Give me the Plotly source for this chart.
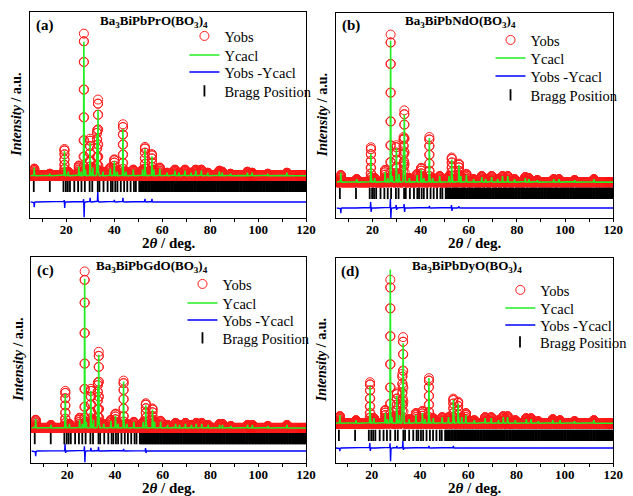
import numpy as np
import plotly.graph_objects as go

SERIF = "Times New Roman, Liberation Serif, serif"

# ---------------- data ----------------
labels = ["(a)", "(b)", "(c)", "(d)"]
formulas = [
    "Ba<sub>3</sub>BiPbPrO(BO<sub>3</sub>)<sub>4</sub>",
    "Ba<sub>3</sub>BiPbNdO(BO<sub>3</sub>)<sub>4</sub>",
    "Ba<sub>3</sub>BiPbGdO(BO<sub>3</sub>)<sub>4</sub>",
    "Ba<sub>3</sub>BiPbDyO(BO<sub>3</sub>)<sub>4</sub>",
]
series_names = ["Yobs", "Ycacl", "Yobs -Ycacl", "Bragg Position"]

# background level, Bragg-tick level, difference-curve level (a.u.)
baselines = [20.5, 17.5, 17.0, 19.4]
bragg_levels = [15.3, 12.0, 11.8, 13.5]
diff_levels = [7.8, 4.9, 5.8, 7.3]

# peak positions (2theta), observed and calculated peak heights (a.u. above background)
a_pos = [6.6, 13.1, 19.2, 20.8, 25.2, 26.2, 27.3, 28.0, 29.9, 31.0, 32.8, 33.2, 35.3, 38.3, 40.0, 41.2, 43.6, 44.9,
         47.9, 51.8, 52.8, 55.7, 56.5, 59.0, 62.0, 65.3, 67.0, 69.5, 72.0, 74.0, 76.3, 79.0, 83.8, 85.0, 88.5, 95.5,
         97.5, 104.0, 112.0]
a_obs = [3.5, 1.0, 13.0, 2.0, 5.0, 2.0, 69.0, 3.0, 18.0, 4.0, 22.0, 37.0, 2.0, 4.0, 8.0, 2.0, 25.0, 2.0,
         3.0, 3.0, 14.0, 10.5, 3.0, 4.0, 1.5, 3.0, 1.5, 3.0, 1.5, 3.0, 3.0, 1.5, 2.5, 2.0, 1.0, 2.0,
         1.5, 1.0, 1.5]
a_calc = [4.0, 1.0, 12.0, 2.0, 4.5, 2.0, 65.0, 3.0, 16.0, 4.0, 20.0, 32.0, 2.0, 3.5, 7.0, 2.0, 22.7, 2.0,
          3.0, 3.0, 13.0, 9.5, 3.0, 3.5, 1.5, 2.5, 1.5, 2.5, 1.5, 2.5, 2.5, 1.5, 2.0, 1.5, 1.0, 1.5,
          1.5, 1.0, 1.5]

b_pos = [6.8, 13.4, 19.3, 20.9, 25.2, 26.3, 27.5, 28.2, 29.9, 31.0, 32.9, 33.2, 35.3, 38.5, 40.2, 41.3, 43.6, 45.0,
         47.9, 51.8, 52.9, 55.9, 56.7, 59.0, 62.0, 65.4, 67.0, 69.5, 72.0, 74.0, 76.2, 79.0, 83.5, 85.0, 88.5, 95.3,
         97.5, 104.0, 112.0]
b_obs = [3.5, 1.5, 17.0, 2.0, 6.0, 2.0, 72.0, 3.0, 18.0, 4.0, 22.0, 35.0, 2.0, 4.0, 7.0, 2.0, 22.0, 2.0,
         3.0, 3.0, 12.0, 9.0, 3.0, 4.0, 1.5, 3.0, 1.5, 3.0, 1.5, 3.0, 3.0, 1.5, 2.5, 2.0, 1.0, 1.5,
         1.5, 1.0, 1.5]
b_calc = [4.5, 1.5, 14.0, 2.0, 5.0, 2.0, 69.0, 3.0, 16.6, 4.0, 20.0, 33.0, 2.0, 3.5, 6.0, 2.0, 21.5, 2.0,
          3.0, 3.0, 11.0, 8.5, 3.0, 3.5, 1.5, 2.5, 1.5, 2.5, 1.5, 3.0, 3.0, 1.5, 2.0, 1.5, 1.0, 1.5,
          1.5, 1.0, 1.5]

c_pos = [6.8, 13.2, 19.2, 20.9, 25.2, 26.3, 27.3, 28.0, 29.9, 31.0, 32.8, 33.2, 35.3, 38.3, 40.2, 41.3, 43.6, 45.0,
         47.9, 51.8, 52.9, 55.7, 56.6, 59.1, 62.0, 65.4, 67.0, 69.5, 72.0, 74.0, 76.3, 79.0, 83.8, 85.0, 88.5, 95.5,
         97.5, 104.0, 112.0]
c_obs = [4.0, 1.5, 18.0, 2.0, 5.0, 2.0, 76.0, 3.0, 19.0, 4.0, 22.0, 37.0, 2.0, 4.0, 7.0, 2.0, 23.0, 2.0,
         3.0, 3.0, 12.0, 9.5, 3.0, 3.5, 1.5, 2.5, 1.5, 2.5, 1.5, 2.5, 2.5, 1.5, 2.0, 2.0, 1.0, 1.5,
         1.5, 1.0, 1.5]
c_calc = [4.5, 1.5, 16.5, 2.0, 4.0, 2.0, 72.5, 3.0, 18.0, 4.0, 20.0, 35.5, 2.0, 3.5, 6.0, 2.0, 22.5, 2.0,
          3.0, 3.0, 11.0, 9.0, 3.0, 3.0, 1.5, 2.0, 1.5, 2.0, 1.5, 2.0, 2.0, 1.5, 1.5, 1.5, 1.0, 1.5,
          1.5, 1.0, 1.5]

d_pos = [6.8, 13.5, 19.3, 20.9, 25.6, 26.5, 27.7, 28.4, 30.4, 31.5, 32.7, 33.0, 35.5, 38.3, 41.0, 42.0, 43.7, 45.5,
         49.2, 51.8, 53.8, 55.8, 57.3, 59.0, 62.5, 67.0, 69.5, 72.5, 74.5, 76.3, 79.5, 84.0, 86.0, 89.0, 95.0,
         98.0, 104.0, 112.0]
d_obs = [3.5, 1.5, 20.0, 2.5, 6.5, 2.0, 70.0, 3.0, 15.0, 4.0, 24.0, 42.0, 2.0, 5.0, 6.0, 2.0, 22.0, 2.5,
         3.0, 3.0, 12.0, 10.5, 3.0, 5.0, 1.5, 3.0, 3.0, 1.5, 3.5, 3.5, 1.5, 2.5, 2.5, 1.0, 2.0,
         1.5, 1.0, 1.5]
d_calc = [4.0, 1.5, 18.0, 2.5, 5.0, 2.0, 75.0, 3.0, 13.5, 4.0, 22.0, 39.0, 2.0, 4.0, 5.0, 2.0, 22.0, 2.5,
          3.0, 3.0, 11.5, 9.5, 3.0, 4.0, 1.5, 2.5, 2.5, 1.5, 3.0, 3.0, 1.5, 2.0, 2.0, 1.0, 1.5,
          1.5, 1.0, 1.5]

# difference-curve spikes: position and signed amplitude
a_dpos = [6.6, 19.1, 19.3, 27.2, 27.4, 29.9, 33.1, 40.0, 43.6, 52.8, 55.7]
a_damp = [-2.5, 1.0, -3.0, 1.5, -7.5, 2.0, 5.0, 1.0, 2.0, 1.5, 1.5]
b_dpos = [6.8, 19.2, 19.4, 27.4, 27.6, 29.8, 30.0, 33.1, 33.3, 43.6, 52.8, 53.0, 55.9]
b_damp = [-2.5, 3.0, -2.0, 4.5, -5.0, 1.5, -1.0, 2.0, -2.0, 1.0, 1.5, -1.5, 0.8]
c_dpos = [6.8, 19.1, 19.3, 27.2, 27.4, 29.9, 33.1, 43.6, 52.8, 53.0]
c_damp = [-2.5, 3.5, -1.0, 2.5, -5.5, 1.5, 2.0, 1.0, 1.5, -1.0]
d_dpos = [6.8, 19.2, 19.4, 27.6, 27.8, 30.4, 32.9, 33.1, 43.7, 53.8]
d_damp = [-1.5, 2.5, -1.5, 2.5, -6.5, 1.0, 3.5, -1.0, 1.0, 1.0]

# Bragg reflection positions (2theta)
bragg_pos = [
    6.4, 13.1, 18.8, 19.8, 20.6, 21.5, 23.3, 24.9, 26.3, 27.7, 29.7, 30.8, 33.1, 33.8, 35.5, 37.2,
    38.6, 39.3, 40.4, 41.3, 42.7, 44.1, 45.4, 46.8, 48.2, 49.0,
    50.4, 50.8, 51.2, 51.7, 52.0, 52.4, 52.9, 53.3, 53.6, 54.1, 54.5, 54.8, 55.3, 55.7, 56.0, 56.5,
    56.9, 57.2, 57.7, 58.1, 58.4, 58.9, 59.3, 59.6, 60.1, 60.5, 60.8, 61.3, 61.7, 62.0, 62.5, 62.9,
    63.2, 63.7, 64.1, 64.4, 64.9, 65.3, 65.6, 66.1, 66.5, 66.8, 67.3, 67.7, 68.0, 68.5, 68.9, 69.2,
    69.7, 70.1, 70.4, 70.9, 71.3, 71.6, 72.1, 72.5, 72.8, 73.3, 73.7, 74.0, 74.5, 74.9, 75.2, 75.7,
    76.1, 76.4, 76.9, 77.3, 77.6, 78.1, 78.5, 78.8, 79.3, 79.7, 80.0, 80.5, 80.9, 81.2, 81.7, 82.1,
    82.4, 82.9, 83.3, 83.6, 84.1, 84.5, 84.8, 85.3, 85.7, 86.0, 86.5, 86.9, 87.2, 87.7, 88.1, 88.4,
    88.9, 89.3, 89.6, 90.1, 90.5, 90.8, 91.3, 91.7, 92.0, 92.5, 92.9, 93.2, 93.7, 94.1, 94.4, 94.9,
    95.3, 95.6, 96.1, 96.5, 96.8, 97.3, 97.7, 98.0, 98.5, 98.9, 99.2, 99.7, 100.1, 100.4, 100.9,
    101.3, 101.6, 102.1, 102.5, 102.8, 103.3, 103.7, 104.0, 104.5, 104.9, 105.2, 105.7, 106.1,
    106.4, 106.9, 107.3, 107.6, 108.1, 108.5, 108.8, 109.3, 109.7, 110.0, 110.5, 110.9, 111.2,
    111.7, 112.1, 112.4, 112.9, 113.3, 113.6, 114.1, 114.5, 114.8, 115.3, 115.7, 116.0, 116.5,
    116.9, 117.2, 117.7, 118.1, 118.4, 118.9, 119.3, 119.6,
]

panels = [
    (a_pos, a_obs, a_calc, a_dpos, a_damp),
    (b_pos, b_obs, b_calc, b_dpos, b_damp),
    (c_pos, c_obs, c_calc, c_dpos, c_damp),
    (d_pos, d_obs, d_calc, d_dpos, d_damp),
]

# ---------------- layout geometry (pixels) ----------------
W, H = 633, 496
boxes = [  # left, right, top, bottom
    (31, 312, 12, 218),
    (343, 625, 13, 218),
    (32, 312, 257, 463),
    (342, 625, 258, 463),
]
legend_left = [188, 500, 186, 510]
legend_rows = [[36, 55, 72, 91], [40, 58, 76, 95], [284, 303, 320, 338], [290, 308, 325, 342]]
formula_xy = [(157, 22), (469, 22), (155, 266), (476, 266)]

PEAK_W = 0.075
xg = np.arange(5.0, 120.0001, 0.025)


def profile(pos, heights, level):
    y = np.full_like(xg, level)
    for p, h in zip(pos, heights):
        y += h * np.exp(-0.5 * ((xg - p) / PEAK_W) ** 2)
    return y


fig = go.Figure()
layout = {}
annotations = []

for i, (pos, obs, calc, dpos, damp) in enumerate(panels):
    n = "" if i == 0 else str(i + 1)
    xa, ya = "x" + n, "y" + n
    legs = ["legend" + ("" if i * 4 + j == 0 else str(i * 4 + j + 1)) for j in range(4)]
    yobs = profile(pos, obs, baselines[i])
    ycalc = profile(pos, calc, baselines[i])
    ydiff = profile(dpos, damp, diff_levels[i])

    fig.add_trace(go.Scatter(x=xg, y=yobs, mode="markers", name=series_names[0], legend=legs[0],
                             xaxis=xa, yaxis=ya,
                             marker=dict(symbol="circle-open", size=9, color="#ff1a1a",
                                         line=dict(width=1, color="#ff1a1a"))))
    fig.add_trace(go.Scatter(x=xg, y=ycalc, mode="lines", name=series_names[1], legend=legs[1],
                             xaxis=xa, yaxis=ya, line=dict(color="#22ee22", width=1.6)))
    fig.add_trace(go.Scatter(x=xg, y=ydiff, mode="lines", name=series_names[2], legend=legs[2],
                             xaxis=xa, yaxis=ya, line=dict(color="#0000ff", width=1.4)))
    fig.add_trace(go.Scatter(x=bragg_pos, y=[bragg_levels[i]] * len(bragg_pos), mode="markers",
                             name=series_names[3], legend=legs[3], xaxis=xa, yaxis=ya,
                             marker=dict(symbol="line-ns-open", size=8, color="black",
                                         line=dict(width=1.8, color="black"))))

    L, R, T, B = boxes[i]
    layout["xaxis" + n] = dict(
        domain=[L / W, R / W], anchor=ya, range=[5, 120], showgrid=False, zeroline=False,
        showline=True, linecolor="black", linewidth=1, mirror=True,
        ticks="outside", ticklen=3, tickcolor="black", tickwidth=1, tick0=0, dtick=20,
        ticklabelstandoff=-4,
        minor=dict(dtick=10, ticks="outside", ticklen=3, tickcolor="black", showgrid=False),
        tickfont=dict(family=SERIF, size=13, color="black", weight="bold"),
    )
    layout["yaxis" + n] = dict(
        domain=[1 - B / H, 1 - T / H], anchor=xa, range=[0, 100], showgrid=False, zeroline=False,
        showline=True, linecolor="black", linewidth=1, mirror=True, showticklabels=False, ticks="",
    )
    for j in range(4):
        layout[legs[j]] = dict(x=legend_left[i] / W, y=1 - legend_rows[i][j] / H,
                               xanchor="left", yanchor="middle",
                               bgcolor="rgba(0,0,0,0)", borderwidth=0, itemwidth=30,
                               font=dict(family=SERIF, size=14.5, color="black"))

    # panel label and formula
    annotations.append(dict(text="<b>%s</b>" % labels[i], x=(L + 4) / W, y=1 - (T + 13) / H,
                            xref="paper", yref="paper", xanchor="left", yanchor="middle",
                            showarrow=False, font=dict(family=SERIF, size=15, color="black")))
    fx, fy = formula_xy[i]
    annotations.append(dict(text="<b>%s</b>" % formulas[i], x=fx / W, y=1 - fy / H,
                            xref="paper", yref="paper", xanchor="center", yanchor="middle",
                            showarrow=False, font=dict(family=SERIF, size=13, color="black")))
    # axis titles
    annotations.append(dict(text="<b>2<i>θ</i> / deg.</b>", x=(L + R) / 2 / W, y=1 - (B + 25) / H,
                            xref="paper", yref="paper", xanchor="center", yanchor="middle",
                            showarrow=False, font=dict(family=SERIF, size=15, color="black")))
    annotations.append(dict(text="<b><i>Intensity</i> / a.u.</b>", x=(L - 14) / W, y=1 - (T + B) / 2 / H,
                            xref="paper", yref="paper", xanchor="center", yanchor="middle",
                            textangle=-90, showarrow=False,
                            font=dict(family=SERIF, size=14, color="black")))

fig.update_layout(
    width=W, height=H, margin=dict(l=0, r=0, t=0, b=0),
    paper_bgcolor="white", plot_bgcolor="white", showlegend=True,
    annotations=annotations, **layout,
)

fig.write_html("out.html")
